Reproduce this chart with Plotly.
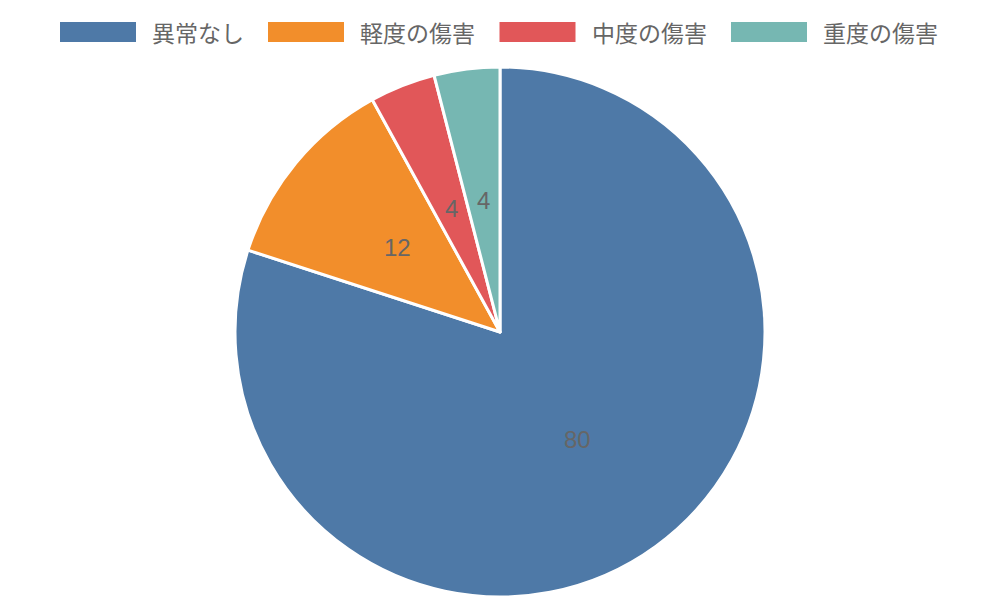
import math
import plotly.graph_objects as go

labels = ["異常なし", "軽度の傷害", "中度の傷害", "重度の傷害"]
values = [80, 12, 4, 4]
colors = ["#4e79a7", "#f28e2b", "#e15759", "#76b7b2"]

W, H = 1000, 600
top, bottom = 67, 3
plot_h = H - top - bottom  # pie fills this height
radius_px = plot_h / 2

fig = go.Figure()
fig.add_trace(go.Pie(
    labels=labels,
    values=values,
    sort=False,
    direction="clockwise",
    rotation=0,
    marker=dict(colors=colors, line=dict(color="white", width=3)),
    textinfo="none",
    hoverinfo="label+value",
    showlegend=False,
))

# value labels at half radius, centre of each slice (chart.js datalabels style)
total = sum(values)
start = 0.0
for v in values:
    mid = (start + v / 2) / total * 2 * math.pi
    start += v
    dx = 0.5 * radius_px * math.sin(mid)
    dy = 0.5 * radius_px * math.cos(mid)
    fig.add_annotation(
        x=0.5 + dx / W, y=0.5 + dy / plot_h,
        xref="paper", yref="paper", xanchor="center", yanchor="middle",
        text=str(v), showarrow=False,
        font=dict(size=24, color="#666666", family="Liberation Sans, Arial, sans-serif"),
    )

# legend drawn by hand: wide colour boxes like chart.js
def py(px):
    return (H - bottom - px) / plot_h

box_w, box_gap, item_gap, char_w = 76, 14, 24, 23.5
x = 60
for lab, col in zip(labels, colors):
    fig.add_shape(type="rect", xref="paper", yref="paper",
                  x0=x / W, x1=(x + box_w) / W, y0=py(42), y1=py(22),
                  fillcolor=col, line=dict(width=0))
    fig.add_annotation(x=(x + box_w + box_gap) / W, y=py(32),
                       xref="paper", yref="paper", xanchor="left", yanchor="middle",
                       text=lab, showarrow=False,
                       font=dict(size=23, color="#666666", family="Noto Sans CJK JP, sans-serif"))
    x += box_w + box_gap + len(lab) * char_w + item_gap

fig.update_layout(
    width=W,
    height=H,
    paper_bgcolor="white",
    margin=dict(l=0, r=0, t=top, b=bottom),
    font=dict(family="Noto Sans CJK JP, sans-serif", color="#666666"),
)

# drop the page's default body margin so the figure sits at the window's corner
fig.write_html("out.html", config={"displayModeBar": False},
               post_script="document.body.style.margin='0';")
